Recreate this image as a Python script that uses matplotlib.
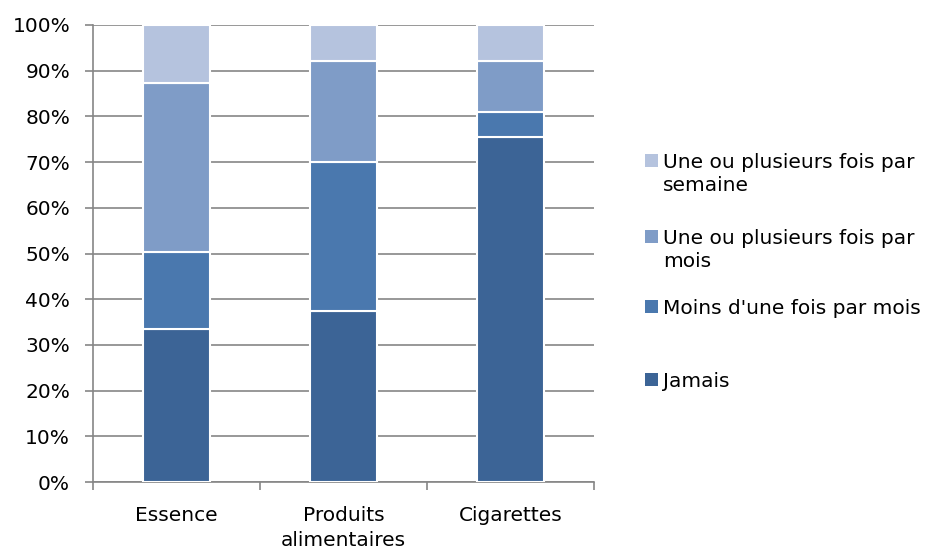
import matplotlib
matplotlib.use("Agg")
import matplotlib.pyplot as plt
from matplotlib.patches import Rectangle
from matplotlib.ticker import FixedLocator, PercentFormatter

categories = ["Essence", "Produits\nalimentaires", "Cigarettes"]
series_names = [
    "Jamais",
    "Moins d'une fois par mois",
    "Une ou plusieurs fois par\nmois",
    "Une ou plusieurs fois par\nsemaine",
]
jamais = [33.4, 37.4, 75.6]
moins_mois = [16.9, 32.7, 5.4]
par_mois = [36.9, 22.1, 11.1]
par_semaine = [12.8, 7.8, 7.9]
y_ticks = list(range(0, 101, 10))

series = [jamais, moins_mois, par_mois, par_semaine]
colors = ["#3C6496", "#4A78AE", "#7F9CC7", "#B5C3DE"]
FS = 14.5

plt.rcParams["font.family"] = ["DejaVu Sans"]
fig = plt.figure(figsize=(9.36, 5.52), dpi=100)
ax = fig.add_axes([93 / 936, (552 - 482) / 552, 501 / 936, 457 / 552])

x = list(range(len(categories)))
bottom = [0.0] * len(categories)
for vals, col in zip(series, colors):
    ax.bar(x, vals, width=0.4, bottom=bottom, color=col,
           edgecolor="white", linewidth=1.5, zorder=3)
    bottom = [b + v for b, v in zip(bottom, vals)]

ax.set_xlim(-0.5, 2.5)
ax.set_ylim(0, 100)
ax.yaxis.set_major_locator(FixedLocator(y_ticks))
ax.yaxis.set_major_formatter(PercentFormatter(decimals=0))
ax.grid(axis="y", color="#868686", linewidth=1.2, zorder=0)
ax.set_axisbelow(True)

ax.set_xticks(x)
ax.set_xticklabels(categories, fontsize=FS, linespacing=1.4)
ax.set_xticks([-0.5, 0.5, 1.5, 2.5], minor=True)
ax.tick_params(axis="x", which="major", length=0, pad=17)
ax.tick_params(axis="x", which="minor", length=6, width=1.2, color="#868686")
ax.tick_params(axis="y", length=6, width=1.2, color="#868686",
               labelsize=FS, pad=10.5)

for side in ("top", "right"):
    ax.spines[side].set_visible(False)
for side in ("left", "bottom"):
    ax.spines[side].set_color("#868686")
    ax.spines[side].set_linewidth(1.2)

# Legend drawn on the right, top entry first
legend_rows = [162, 238, 308, 381]
for name, col, ypix in zip(series_names[::-1], colors[::-1], legend_rows):
    fig.patches.append(Rectangle((645 / 936, 1 - (ypix + 5) / 552),
                                 13 / 936, 13 / 552, transform=fig.transFigure,
                                 facecolor=col, edgecolor="none"))
    fig.text(663 / 936, 1 - (ypix - 9) / 552, name, fontsize=FS,
             va="top", ha="left", linespacing=1.25)

fig.savefig("out.png", dpi=100)
